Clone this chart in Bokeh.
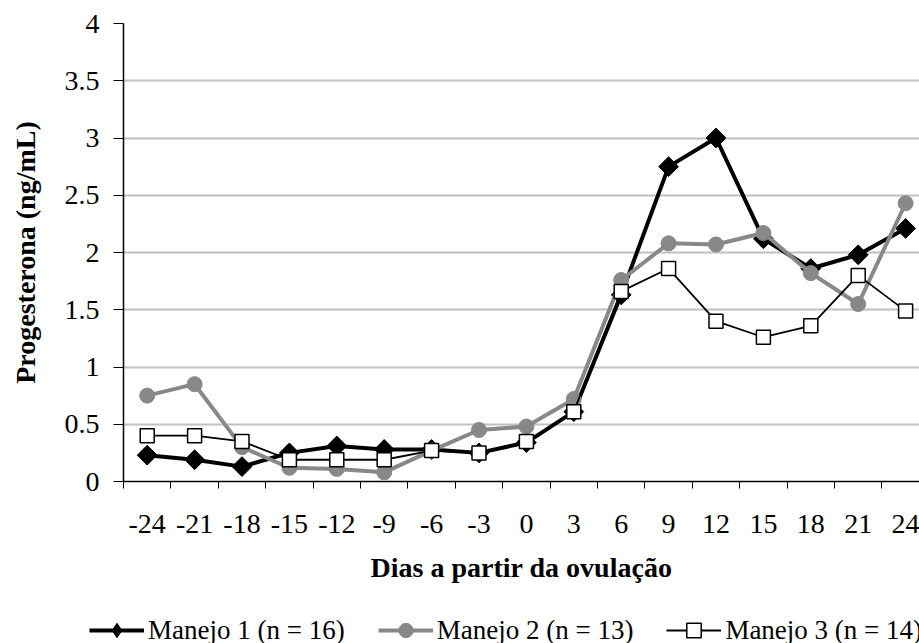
import numpy as np
from bokeh.plotting import figure
from bokeh.layouts import column, row
from bokeh.models import FixedTicker, Legend, LegendItem, Range1d
from bokeh.embed import file_html
from bokeh.resources import INLINE

# ---- data ----
days = [-24, -21, -18, -15, -12, -9, -6, -3, 0, 3, 6, 9, 12, 15, 18, 21, 24]
manejo1 = [0.23, 0.19, 0.13, 0.25, 0.31, 0.28, 0.28, 0.25, 0.34, 0.61, 1.63, 2.75, 3.00, 2.12, 1.86, 1.98, 2.21]
manejo2 = [0.75, 0.85, 0.30, 0.12, 0.11, 0.08, 0.27, 0.45, 0.48, 0.72, 1.76, 2.08, 2.07, 2.17, 1.82, 1.55, 2.43]
manejo3 = [0.40, 0.40, 0.35, 0.19, 0.19, 0.19, 0.27, 0.25, 0.35, 0.61, 1.66, 1.86, 1.40, 1.26, 1.36, 1.80, 1.49]
series_names = ["Manejo 1 (n = 16)", "Manejo 2 (n = 13)", "Manejo 3 (n = 14)"]
x_tick_labels = ["-24", "-21", "-18", "-15", "-12", "-9", "-6", "-3", "0", "3", "6", "9", "12", "15", "18", "21", "24"]
y_ticks = [0, 0.5, 1, 1.5, 2, 2.5, 3, 3.5, 4]
y_tick_labels = ["0", "0.5", "1", "1.5", "2", "2.5", "3", "3.5", "4"]
x_title = "Dias a partir da ovulação"
y_title = "Progesterona (ng/mL)"

FONT = "Liberation Serif"
STYLES = [
    dict(line_color="black", line_width=4, marker="square", angle=np.pi / 4, size=14,
         fill_color="black", mline="black", mlw=1, legend_marker="diamond"),
    dict(line_color="#888888", line_width=4, marker="circle", angle=0, size=15,
         fill_color="#888888", mline="#888888", mlw=1, legend_marker="circle"),
    dict(line_color="black", line_width=1.8, marker="square", angle=0, size=14,
         fill_color="white", mline="black", mlw=1.5, legend_marker="square"),
]
SERIES = [manejo1, manejo2, manejo3]

p = figure(width=919, height=605, output_backend="svg", toolbar_location=None,
           x_range=Range1d(-25.5, 24.88), y_range=Range1d(0, 4),
           min_border_left=123, min_border_right=0, min_border_top=23,
           min_border_bottom=124)
p.outline_line_color = None
p.background_fill_color = "white"
p.border_fill_color = "white"

# grid
p.xgrid.grid_line_color = None
p.ygrid.grid_line_color = "#c0c0c0"
p.ygrid.grid_line_width = 2

# x axis
step = days[1] - days[0]
minor = [d - step / 2 for d in days] + [days[-1] + step / 2]
p.xaxis.ticker = FixedTicker(ticks=days, minor_ticks=minor)
p.xaxis.major_label_overrides = {float(d): l for d, l in zip(days, x_tick_labels)}
p.xaxis.major_tick_line_color = None
p.xaxis.major_tick_out = 0
p.xaxis.major_tick_in = 0
p.xaxis.minor_tick_out = 7
p.xaxis.minor_tick_in = 0
p.xaxis.minor_tick_line_color = "black"
p.xaxis.axis_line_color = "black"
p.xaxis.axis_line_width = 1.5
p.xaxis.major_label_standoff = 26
p.xaxis.major_label_text_font = FONT
p.xaxis.major_label_text_font_size = "28px"
p.xaxis.major_label_text_color = "black"
p.xaxis.axis_label = x_title
p.xaxis.axis_label_text_font = FONT
p.xaxis.axis_label_text_font_style = "bold"
p.xaxis.axis_label_text_font_size = "28px"
p.xaxis.axis_label_text_color = "black"
p.xaxis.axis_label_standoff = 16

# y axis
p.yaxis.ticker = FixedTicker(ticks=y_ticks)
p.yaxis.major_label_overrides = {float(t): l for t, l in zip(y_ticks, y_tick_labels)}
p.yaxis.major_tick_out = 10
p.yaxis.major_tick_in = 0
p.yaxis.major_tick_line_color = "black"
p.yaxis.minor_tick_line_color = None
p.yaxis.axis_line_color = "black"
p.yaxis.axis_line_width = 1.5
p.yaxis.major_label_standoff = 14
p.yaxis.major_label_text_font = FONT
p.yaxis.major_label_text_font_size = "28px"
p.yaxis.major_label_text_color = "black"
p.yaxis.axis_label = y_title
p.yaxis.axis_label_text_font = FONT
p.yaxis.axis_label_text_font_style = "bold"
p.yaxis.axis_label_text_font_size = "28px"
p.yaxis.axis_label_text_color = "black"
p.yaxis.axis_label_standoff = 21

# series
for vals, st in zip(SERIES, STYLES):
    p.line(days, vals, line_color=st["line_color"], line_width=st["line_width"])
    p.scatter(days, vals, marker=st["marker"], angle=st["angle"], size=st["size"],
              fill_color=st["fill_color"], line_color=st["mline"], line_width=st["mlw"])

# legend strip below the chart (series drawn out of its view, only the legend shows)
lg = figure(width=919, height=38, output_backend="svg", toolbar_location=None,
            x_axis_type=None, y_axis_type=None, min_border=0,
            min_border_left=0, min_border_right=0, min_border_top=0, min_border_bottom=0,
            x_range=Range1d(-25.5, 24.88), y_range=Range1d(100, 101))
lg.outline_line_color = None
lg.xgrid.grid_line_color = None
lg.ygrid.grid_line_color = None
items = []
for name, vals, st in zip(series_names, SERIES, STYLES):
    rl = lg.line(days, vals, line_color=st["line_color"], line_width=st["line_width"])
    rm = lg.scatter(days, vals, marker=st["legend_marker"], size=st["size"],
                    fill_color=st["fill_color"], line_color=st["mline"], line_width=st["mlw"])
    items.append(LegendItem(label=name, renderers=[rl, rm]))
legend = Legend(items=items, orientation="horizontal", location=(89, -5),
                glyph_width=55, glyph_height=36, label_standoff=4, spacing=33,
                padding=0, margin=0, border_line_color=None,
                background_fill_alpha=0,
                label_text_font=FONT, label_text_font_size="27px",
                label_text_color="black")
lg.add_layout(legend)

layout = column(p, row(lg, spacing=0), spacing=0)
open("out.html", "w").write(file_html(layout, INLINE))
